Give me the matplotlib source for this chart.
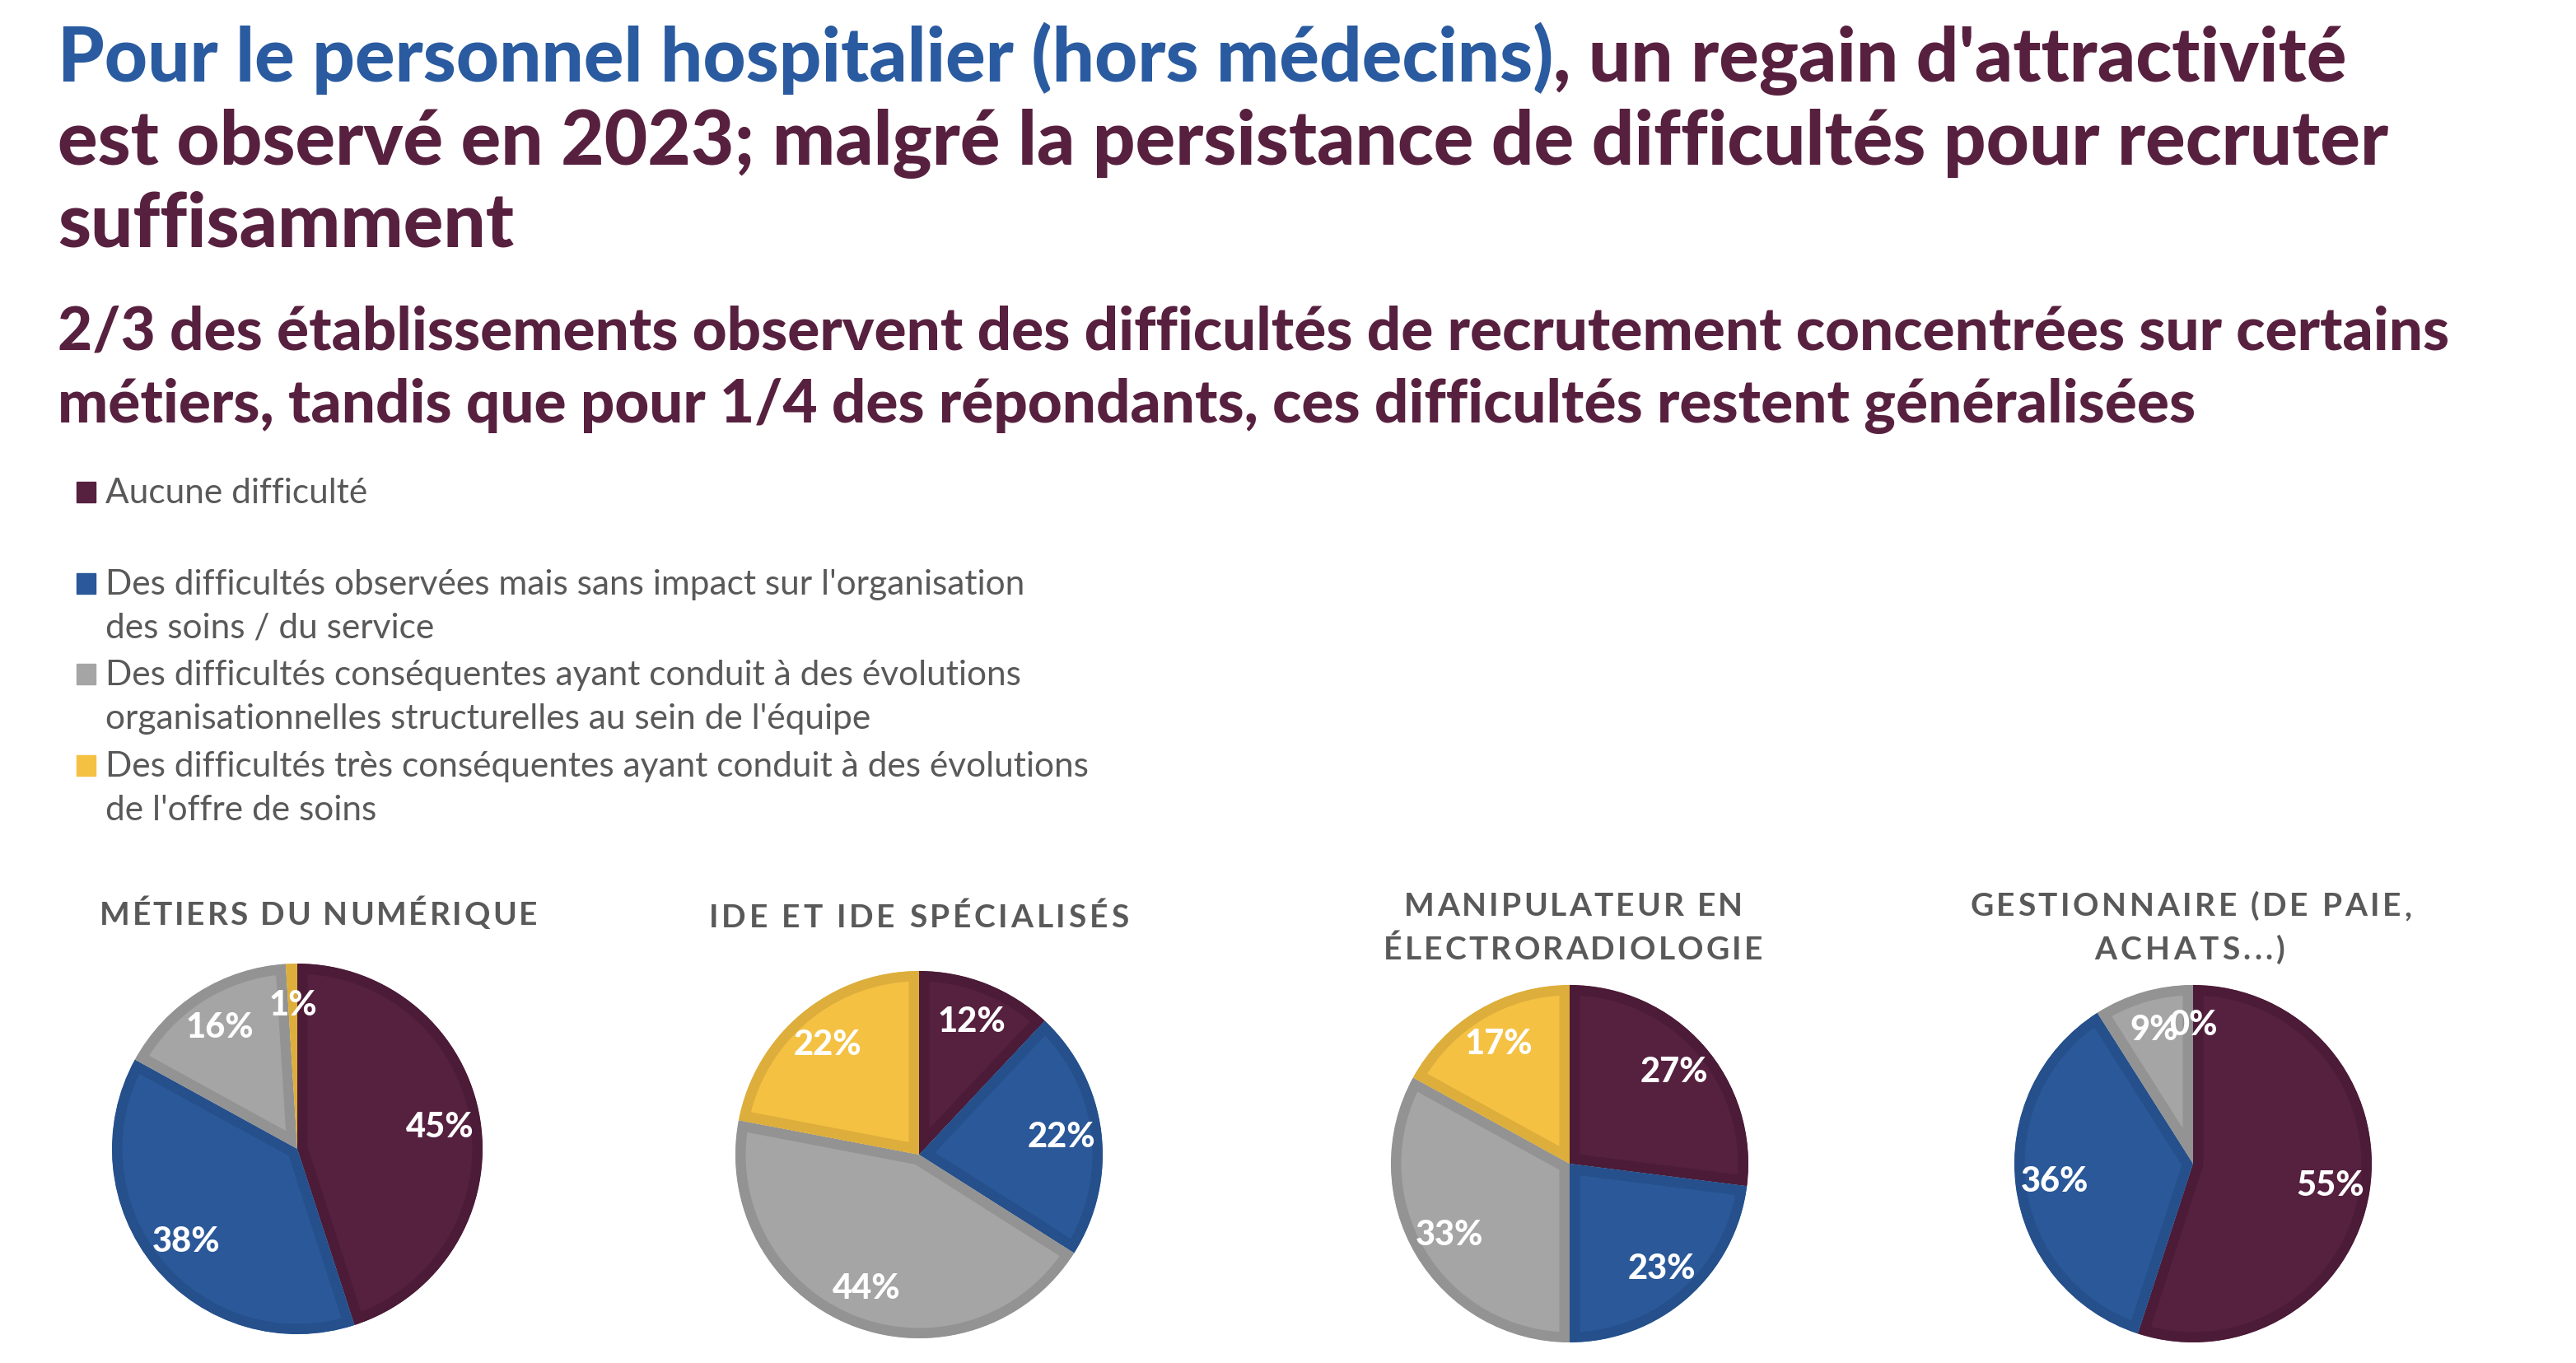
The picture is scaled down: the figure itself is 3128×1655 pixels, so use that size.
import matplotlib
matplotlib.use("Agg")
import matplotlib.pyplot as plt
import numpy as np

W, H = 3128, 1656

# ---------------- data ----------------
categories = [
    "Aucune difficulté",
    "Des difficultés observées mais sans impact sur l'organisation\ndes soins / du service",
    "Des difficultés conséquentes ayant conduit à des évolutions\norganisationnelles structurelles au sein de l'équipe",
    "Des difficultés très conséquentes ayant conduit à des évolutions\nde l'offre de soins",
]
chart_titles = [
    "MÉTIERS DU NUMÉRIQUE",
    "IDE ET IDE SPÉCIALISÉS",
    "MANIPULATEUR EN\nÉLECTRORADIOLOGIE",
    "GESTIONNAIRE (DE PAIE,\nACHATS...)",
]
numerique = [45, 38, 16, 1]
ide = [12, 22, 44, 22]
manipulateur = [27, 23, 33, 17]
gestionnaire = [55, 36, 9, 0]
series = [numerique, ide, manipulateur, gestionnaire]

title_blue = "Pour le personnel hospitalier (hors médecins)"
title_rest = ", un regain d'attractivité"
title_line2 = "est observé en 2023; malgré la persistance de difficultés pour recruter"
title_line3 = "suffisamment"
subtitle_lines = [
    "2/3 des établissements observent des difficultés de recrutement concentrées sur certains",
    "métiers, tandis que pour 1/4 des répondants, ces difficultés restent généralisées",
]

# ---------------- style ----------------
fills = ["#56203F", "#2A5899", "#A5A5A5", "#F4C143"]
edges = ["#4B1B37", "#25508C", "#939393", "#DDAE3B"]
BLUE = "#2A5BA0"
MAROON = "#58203F"
GREY = "#595959"
TITLE_FONT = "Lato"

fig = plt.figure(figsize=(W / 100, H / 100), dpi=100)
fig.patch.set_facecolor("white")
renderer = fig.canvas.get_renderer()


def fx(x):
    return x / W


def fy(y):
    return 1 - y / H


def width_of(t):
    return t.get_window_extent(renderer).width


def fitted(x, y, s, target_w, **kw):
    t = fig.text(fx(x), fy(y), s, va="baseline", ha="left", **kw)
    w = width_of(t)
    t.set_fontsize(t.get_fontsize() * target_w / w)
    return t


# ---------------- titles ----------------
t2 = fitted(70, 200, title_line2, 2834, color=MAROON, family=TITLE_FONT,
            weight="black", fontsize=50)
tfs = t2.get_fontsize()
tb = fig.text(fx(70), fy(99), title_blue, color=BLUE, family=TITLE_FONT,
              weight="black", fontsize=tfs, va="baseline")
bw = width_of(tb)
fig.text(fx(70 + bw), fy(99), title_rest, color=MAROON, family=TITLE_FONT,
         weight="black", fontsize=tfs, va="baseline")
fig.text(fx(70), fy(300), title_line3, color=MAROON, family=TITLE_FONT,
         weight="black", fontsize=tfs, va="baseline")

s1 = fitted(70, 425, subtitle_lines[0], 2900, color=MAROON, family=TITLE_FONT,
            weight="black", fontsize=40)
fig.text(fx(70), fy(513), subtitle_lines[1], color=MAROON, family=TITLE_FONT,
         weight="black", fontsize=s1.get_fontsize(), va="baseline")

# ---------------- legend ----------------
probe = fitted(128, -500, categories[3].split("\n")[0], 1192, color=GREY,
               family="Lato", fontsize=26)
lfs = probe.get_fontsize()
probe.remove()
leg_baselines = [[611], [722, 775], [832, 885], [943, 996]]
for cat, bls, col in zip(categories, leg_baselines, fills):
    for line, bl in zip(cat.split("\n"), bls):
        fig.text(fx(128), fy(bl), line, color=GREY, family="Lato",
                 fontsize=lfs, va="baseline")
    fig.patches.append(plt.Rectangle((fx(93), fy(bls[0])), 23 / W, 25 / H,
                                     transform=fig.transFigure, color=col))


# ---------------- pie titles (tracked caps) ----------------
def tracked(text, x0, x1, baseline, fontsize):
    kw = dict(family="Lato", weight="bold", color=GREY, fontsize=fontsize,
              va="baseline", ha="left")
    bar = fig.text(0, -1, "|", **kw)
    wbar = width_of(bar)
    offs = []
    for i in range(len(text) + 1):
        t = fig.text(0, -1, text[:i] + "|", **kw)
        offs.append(width_of(t) - wbar)
        t.remove()
    bar.remove()
    natural = offs[-1]
    n = len(text)
    extra = (x1 - x0 - natural) / max(n - 1, 1)
    for i, ch in enumerate(text):
        fig.text(fx(x0 + offs[i] + extra * i), fy(baseline), ch, **kw)


title_boxes = [
    [(121, 652, 1123)],
    [(861, 1370, 1126)],
    [(1705, 2116, 1112), (1680, 2140, 1165)],
    [(2392, 2928, 1112), (2543, 2775, 1165)],
]
for title, boxes in zip(chart_titles, title_boxes):
    for line, (x0, x1, bl) in zip(title.split("\n"), boxes):
        tracked(line, x0, x1, bl, 28)

# ---------------- pies ----------------
pie_geom = [(361, 1396, 225), (1116, 1403, 223), (1906, 1414, 217), (2663, 1414, 217)]
for vals, (cx, cy, r) in zip(series, pie_geom):
    ax = fig.add_axes([fx(cx - r), fy(cy + r), 2 * r / W, 2 * r / H])
    wedges, _ = ax.pie(vals, startangle=90, counterclock=False, colors=fills,
                       radius=1.0, wedgeprops=dict(linewidth=18, joinstyle="miter"))
    for w, ec in zip(wedges, edges):
        w.set_edgecolor(ec)
        w.set_clip_path(w)
        w.set_clip_on(True)
    for w, v in zip(wedges, vals):
        ang = np.deg2rad((w.theta1 + w.theta2) / 2)
        ax.text(0.78 * np.cos(ang), 0.78 * np.sin(ang), f"{v}%", color="white",
                family="Lato", weight="black", fontsize=30, ha="center", va="center")
    ax.set_xlim(-1.0, 1.0)
    ax.set_ylim(-1.0, 1.0)
    ax.set_aspect("equal")
    ax.axis("off")

fig.savefig("out.png", dpi=100, facecolor="white")
